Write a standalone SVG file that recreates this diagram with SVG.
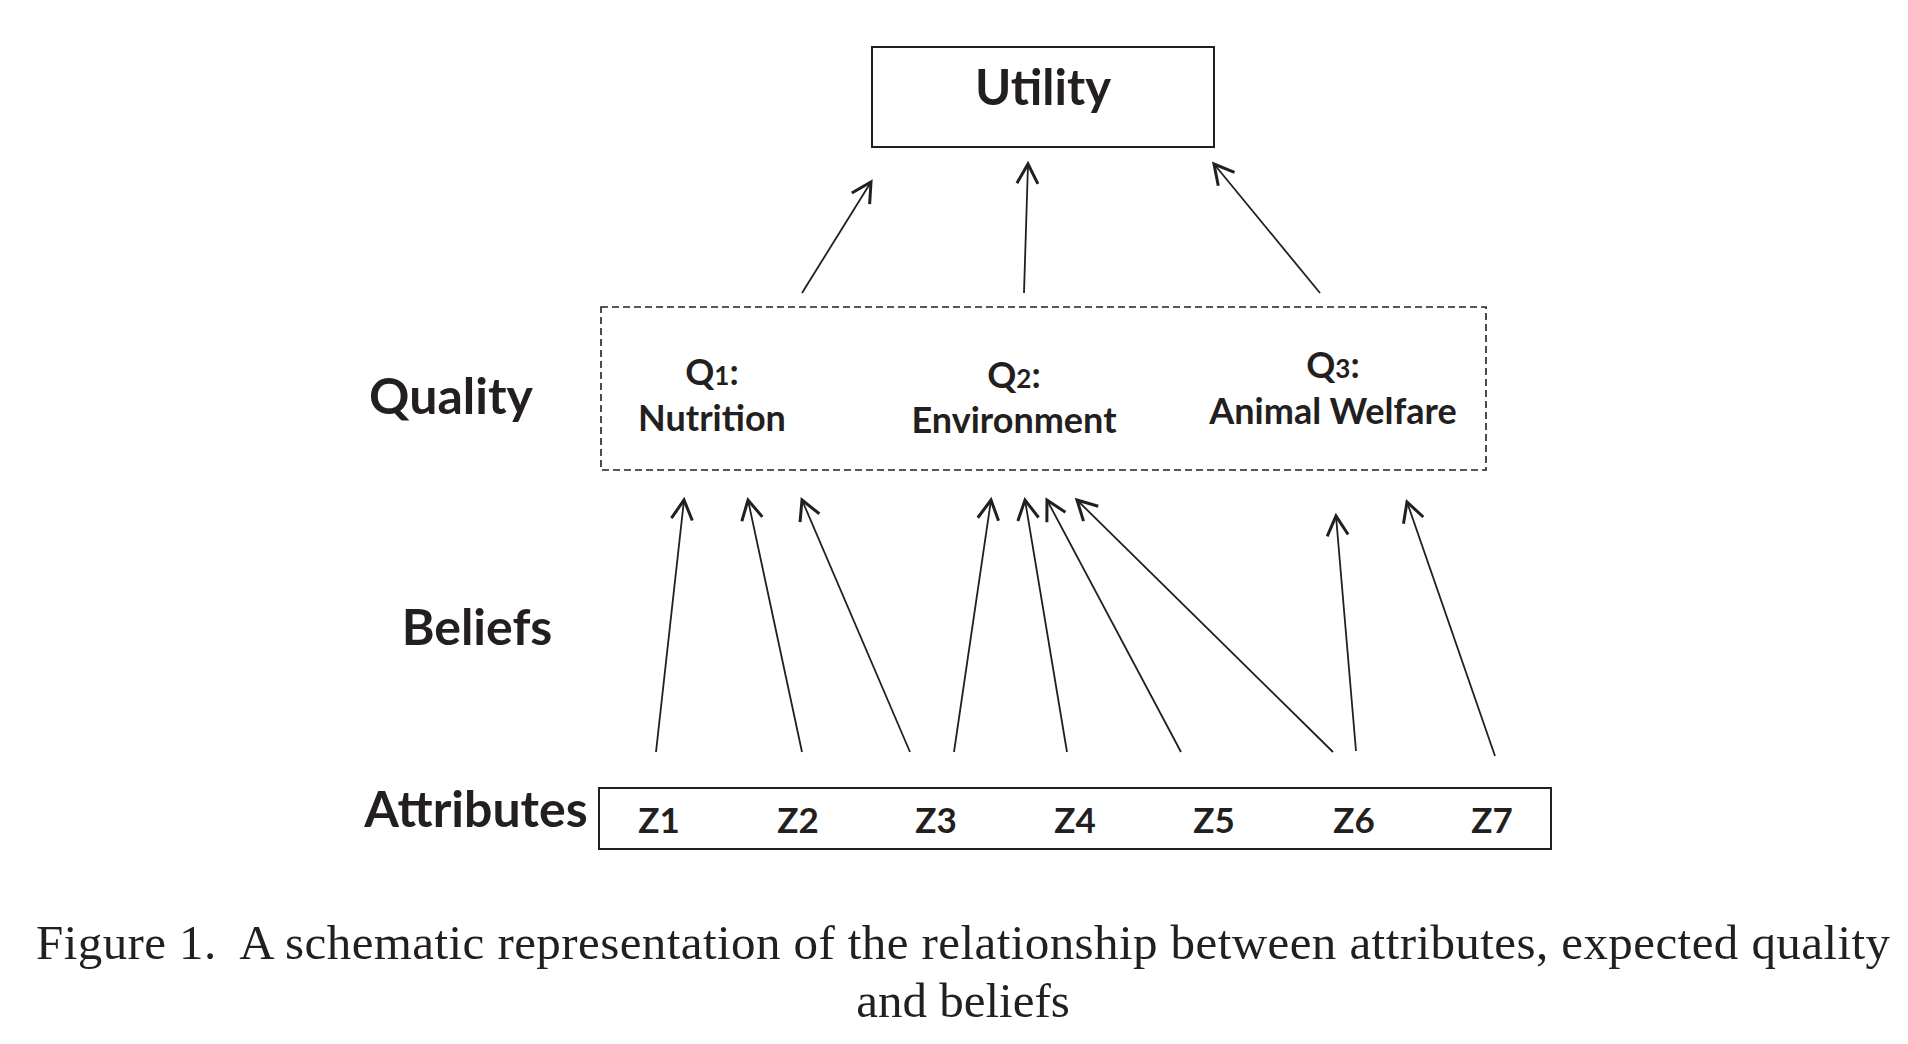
<svg xmlns="http://www.w3.org/2000/svg" width="1908" height="1044" viewBox="0 0 1908 1044">
<style>
.lbl{font-family:Lato,"Open Sans","Liberation Sans",sans-serif;font-weight:bold;fill:#231f20;text-anchor:middle}
.big{font-size:50px}
.q{font-size:36px}
.z{font-size:35px}
.box{fill:none;stroke:#231f20;stroke-width:2}
.dash{fill:none;stroke:#231f20;stroke-width:1.6;stroke-dasharray:7 4}
.arr{fill:none;stroke:#231f20;stroke-width:1.8;marker-end:url(#ah)}
.cap{font-family:"Liberation Serif","Times New Roman",serif;font-size:49px;fill:#231f20;white-space:pre}
</style>
<defs>
<marker id="ah" markerUnits="userSpaceOnUse" markerWidth="30" markerHeight="30" viewBox="-16 -10 20 20" refX="0" refY="0" orient="auto">
<path d="M-13,-7 L0,0 L-13,7" fill="none" stroke="#231f20" stroke-width="2"/>
</marker>
</defs>
<rect width="1908" height="1044" fill="#ffffff"/>

<g id="utility">
<rect class="box" x="872" y="47" width="342" height="100"/>
<text class="lbl" font-size="49" x="1043" y="105">Utility</text>
</g>

<g id="quality-label"><text class="lbl big" x="451" y="414">Quality</text></g>
<g id="beliefs-label"><text class="lbl big" x="477" y="645">Beliefs</text></g>
<g id="attributes-label"><text class="lbl big" x="476" y="827">Attributes</text></g>

<g id="quality">
<rect class="dash" x="601" y="307" width="885" height="163"/>
<g id="q1"><text class="lbl q" x="712" y="385">Q<tspan font-size="26">1</tspan>:</text><text class="lbl q" x="712" y="431">Nutrition</text></g>
<g id="q2"><text class="lbl q" x="1014" y="388">Q<tspan font-size="26">2</tspan>:</text><text class="lbl q" x="1014" y="433">Environment</text></g>
<g id="q3"><text class="lbl q" x="1333" y="378">Q<tspan font-size="26">3</tspan>:</text><text class="lbl q" x="1333" y="424">Animal Welfare</text></g>
</g>

<g id="attributes">
<rect class="box" x="599" y="788" width="952" height="61"/>
<text class="lbl z" x="659" y="833">Z1</text>
<text class="lbl z" x="798" y="833">Z2</text>
<text class="lbl z" x="936" y="833">Z3</text>
<text class="lbl z" x="1075" y="833">Z4</text>
<text class="lbl z" x="1214" y="833">Z5</text>
<text class="lbl z" x="1354" y="833">Z6</text>
<text class="lbl z" x="1492" y="833">Z7</text>
</g>

<g id="connectors">
<line class="arr" x1="802" y1="293" x2="871" y2="182"/>
<line class="arr" x1="1024" y1="293" x2="1028" y2="164"/>
<line class="arr" x1="1320" y1="293" x2="1214" y2="164"/>
<line class="arr" x1="656" y1="752" x2="684" y2="500"/>
<line class="arr" x1="802" y1="752" x2="748" y2="500"/>
<line class="arr" x1="910" y1="752" x2="802" y2="500"/>
<line class="arr" x1="954" y1="752" x2="991" y2="500"/>
<line class="arr" x1="1067" y1="752" x2="1025" y2="500"/>
<line class="arr" x1="1181" y1="752" x2="1047" y2="500"/>
<line class="arr" x1="1333" y1="752" x2="1077" y2="500"/>
<line class="arr" x1="1356" y1="751" x2="1336" y2="516"/>
<line class="arr" x1="1495" y1="756" x2="1407" y2="502"/>
</g>

<g id="caption">
<text class="cap" x="36" y="959" textLength="1854" lengthAdjust="spacing">Figure 1.  A schematic representation of the relationship between attributes, expected quality</text>
<text class="cap" x="963" y="1017" text-anchor="middle">and beliefs</text>
</g>
</svg>
